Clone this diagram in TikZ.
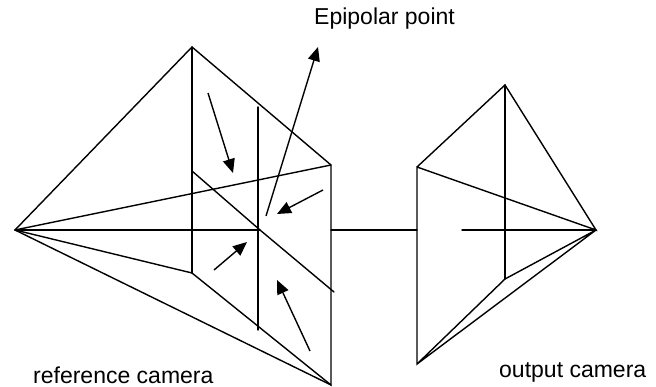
\documentclass[tikz,border=0pt]{standalone}
\usepackage{fontspec}
\setmainfont{Liberation Sans}
\usetikzlibrary{arrows.meta}
\tikzset{
  edge/.style={draw=black,line width=1.4pt,line cap=round},
  ray/.style={draw=black,line width=1.4pt,-{Triangle[length=14pt,width=12pt]}},
  lab/.style={inner sep=0pt,anchor=base west,font=\fontsize{23}{26}\selectfont}
}
\begin{document}
\begin{tikzpicture}[x=1pt,y=-1pt]
\useasboundingbox (0,0) rectangle (656,387);
% reference camera
\coordinate (rc) at (15,230);
\coordinate (rtop) at (192,47);
\coordinate (rur) at (331,165);
\coordinate (rbot) at (331,385);
\coordinate (rmid) at (192,273);
\coordinate (vt) at (258,107);
\coordinate (vb) at (258,330);
\coordinate (dl) at (192,171);
\coordinate (dc) at (260,230);
\coordinate (dr) at (334,292);
\coordinate (hl) at (331,230);
% output camera
\coordinate (oc) at (596,230);
\coordinate (otop) at (505,85);
\coordinate (oul) at (417,167);
\coordinate (obot) at (417,364);
\coordinate (omid) at (505,279);
\coordinate (ohl) at (417,230);
\coordinate (ohs) at (462,230);
% arrow ends
\coordinate (a1s) at (208,93);  \coordinate (a1t) at (233,173);
\coordinate (a2s) at (266,216); \coordinate (a2t) at (318,47);
\coordinate (a3s) at (323,190); \coordinate (a3t) at (277,214);
\coordinate (a4s) at (214,270); \coordinate (a4t) at (247,242);
\coordinate (a5s) at (310,351); \coordinate (a5t) at (277,280);

\draw[edge] (rc) -- (rtop) -- (rur) -- (rbot) -- (rmid) -- (rc);
\draw[edge] (rc) -- (rur);
\draw[edge] (rc) -- (rbot);
\draw[edge] (rtop) -- (rmid);
\draw[edge] (vt) -- (vb);
\draw[edge] (dl) -- (dc) -- (dr);
\draw[edge] (rc) -- (dc);
\draw[edge] (hl) -- (ohl);

\draw[edge] (oul) -- (otop) -- (oc) -- (oul) -- (obot) -- (omid) -- (oc) -- (obot);
\draw[edge] (otop) -- (omid);
\draw[edge] (ohs) -- (oc);

\draw[ray] (a1s) -- (a1t);
\draw[ray] (a2s) -- (a2t);
\draw[ray] (a3s) -- (a3t);
\draw[ray] (a4s) -- (a4t);
\draw[ray] (a5s) -- (a5t);

\node[lab] (t1) at (314,25) {Epipolar point};
\node[lab] (t2) at (33,383) {reference camera};
\node[lab] (t3) at (499,377) {output camera};
\end{tikzpicture}
\end{document}
